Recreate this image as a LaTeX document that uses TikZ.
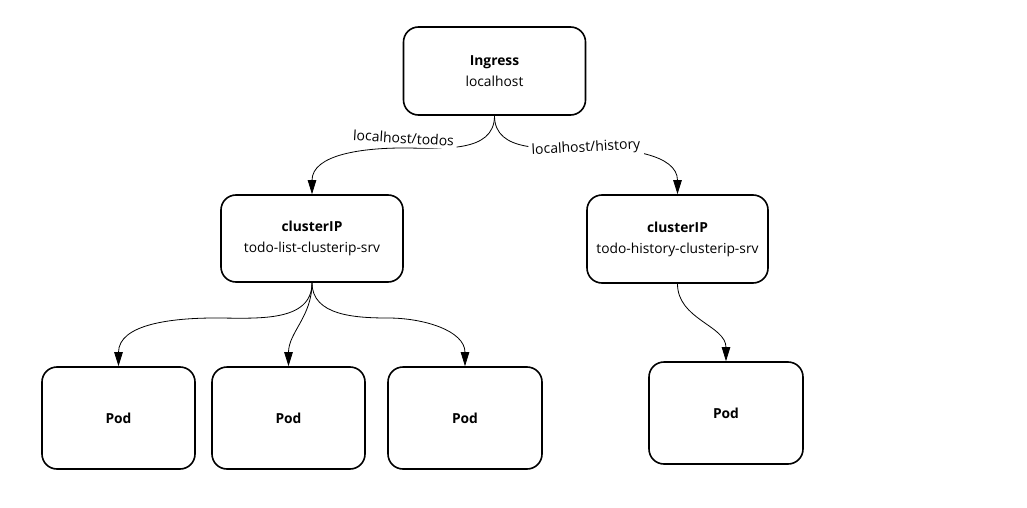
\documentclass[tikz,border=0pt]{standalone}
\usepackage{fontspec}
\setmainfont{Open Sans}
\usetikzlibrary{arrows.meta}
\tikzstyle{box} = [draw, line width=1.6pt, rounded corners=15pt, align=center, inner sep=0pt, font=\fontsize{13.8}{21}\selectfont]
\tikzstyle{arrow} = [line width=0.8pt, -{Triangle[length=14pt,width=8.5pt]}]
\tikzstyle{lbl} = [fill=white, inner sep=3pt, font=\fontsize{14}{16}\selectfont]

\begin{document}
\begin{tikzpicture}[x=1pt, y=1pt]
        \useasboundingbox (0,0) rectangle (1027,507);
        % Node positions
        \node[box, minimum width=182pt, minimum height=88pt] (I) at (494.5,436) {\textbf{Ingress}\\localhost};
        \node[box, minimum width=182pt, minimum height=87pt] (C1) at (312,268.5) {\textbf{clusterIP}\\todo-list-clusterip-srv};
        \node[box, minimum width=181pt, minimum height=88pt] (C2) at (677.5,268) {\textbf{clusterIP}\\todo-history-clusterip-srv};
        \node[box, minimum width=153pt, minimum height=102pt] (P1) at (118.5,89) {\textbf{Pod}};
        \node[box, minimum width=153pt, minimum height=102pt] (P2) at (288.5,89) {\textbf{Pod}};
        \node[box, minimum width=154pt, minimum height=102pt] (P3) at (465,89) {\textbf{Pod}};
        \node[box, minimum width=154pt, minimum height=102pt] (P4) at (726,94) {\textbf{Pod}};

        % Bends of the curves
        \coordinate (M1) at (403,359);
        \coordinate (M2) at (586,359);
        \coordinate (M3) at (215,189);
        \coordinate (M4) at (388,189);

        \draw[arrow] (I.south) to[out=270,in=0] (M1) node[lbl, rotate=-3.5, yshift=10pt] {localhost/todos} to[out=180,in=90] (C1.north);
        \draw[arrow] (I.south) to[out=270,in=180] (M2) node[lbl, rotate=3] {localhost/history} to[out=0,in=90] (C2.north);
        \draw[arrow] (C1.south) to[out=270,in=0] (M3) to[out=180,in=90] (P1.north);
        \draw[arrow] (C1.south) to[out=270,in=90] (P2.north);
        \draw[arrow] (C1.south) to[out=270,in=180] (M4) to[out=0,in=90] (P3.north);
        \draw[arrow] (C2.south) to[out=270,in=90] (P4.north);
\end{tikzpicture}
\end{document}
